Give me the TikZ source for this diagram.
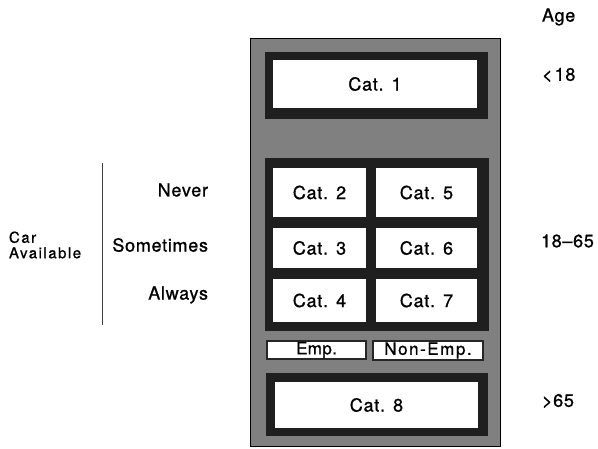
\documentclass[tikz,border=0pt]{standalone}
\usepackage{fontspec}
\setmainfont{TeX Gyre Heros}[LetterSpace=4,FakeBold=1]
\newfontfamily\carfont{TeX Gyre Heros}[LetterSpace=10,FakeBold=1]
\newfontfamily\empfont{TeX Gyre Heros}[LetterSpace=2,FakeBold=1]
\newfontfamily\nempfont{TeX Gyre Heros}[LetterSpace=9,FakeBold=1]
\begin{document}
\begin{tikzpicture}[x=1pt,y=-1pt,
  every node/.style={inner sep=0pt, outer sep=0pt},
  outerbox/.style={draw=black, line width=1pt, fill=black!50, minimum width=250pt, minimum height=408pt},
  frame/.style={fill=black!88, draw=black!88},
  cell/.style={fill=white, font=\fontsize{18}{20}\selectfont},
  smallcell/.style={fill=white, draw=black!85, line width=1.2pt},
  lab/.style={font=\fontsize{18}{20}\selectfont},
]
\useasboundingbox (0,0) rectangle (598,448);
\node[outerbox] (outer) at (375,242) {};
% Cat 1
\node[frame, minimum width=222pt, minimum height=66pt] (f1) at (376,85) {};
\node[cell, minimum width=204pt, minimum height=48pt] (c1) at (375,84) {Cat.\hspace{0.45em}1};
% middle block
\node[frame, minimum width=223pt, minimum height=172pt] (f2) at (376.5,244) {};
\node[cell, minimum width=93pt, minimum height=49pt] (c2) at (319.5,192.5) {Cat.\hspace{0.45em}2};
\node[cell, minimum width=101pt, minimum height=49pt] (c5) at (426.5,192.5) {Cat.\hspace{0.45em}5};
\node[cell, minimum width=93pt, minimum height=40pt] (c3) at (319.5,248) {Cat.\hspace{0.45em}3};
\node[cell, minimum width=101pt, minimum height=40pt] (c6) at (426.5,248) {Cat.\hspace{0.45em}6};
\node[cell, minimum width=93pt, minimum height=43pt] (c4) at (319.5,300.5) {Cat.\hspace{0.45em}4};
\node[cell, minimum width=101pt, minimum height=43pt] (c7) at (426.5,300.5) {Cat.\hspace{0.45em}7};
% Emp / Non-Emp
\node[smallcell, minimum width=99pt, minimum height=18pt, font=\empfont\fontsize{17}{17}\selectfont] (emp) at (316.5,350) {Emp.};
\node[smallcell, minimum width=110pt, minimum height=19pt, font=\nempfont\fontsize{17}{17}\selectfont] (nemp) at (428,350.5) {Non-Emp.};
% Cat 8
\node[frame, minimum width=221pt, minimum height=62pt] (f8) at (376.5,404) {};
\node[cell, minimum width=203pt, minimum height=46pt] (c8) at (376.5,405) {Cat.\hspace{0.45em}8};
% Age labels
\node[lab, anchor=west] (age) at (542,17) {Age};
\node[lab, anchor=west] (a1) at (542,75) {<\hspace{0.12em}18};
\node[lab, anchor=west] (a2) at (541,241) {18–65};
\node[lab, anchor=west] (a3) at (542,401) {>65};
% Car available
\node[lab, anchor=east] (never) at (208,190) {Never};
\node[lab, anchor=east] (some) at (208,245) {Sometimes};
\node[lab, anchor=east] (always) at (208,295) {Always};
\node[anchor=west, align=left, font=\carfont\fontsize{15}{15.5}\selectfont] (car) at (9,245) {Car\\Available};
\coordinate (vtop) at (102,163);
\coordinate (vbot) at (102,325);
\draw[line width=1pt, black!75] (vtop) -- (vbot);
\end{tikzpicture}
\end{document}
